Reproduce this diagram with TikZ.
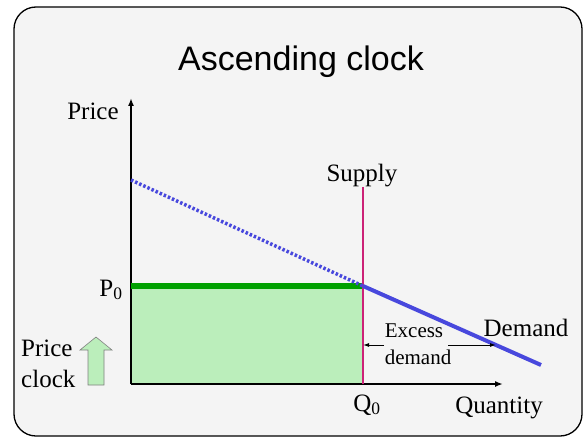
\documentclass[tikz,border=0pt]{standalone}
\usepackage{fontspec}
\setmainfont{Liberation Serif}
\newfontfamily\titlefont{Liberation Sans}
\usetikzlibrary{arrows.meta}
\definecolor{bgc}{HTML}{F4F4F4}
\definecolor{dblue}{HTML}{4848DD}
\definecolor{supc}{HTML}{CC2277}
\definecolor{pgreen}{HTML}{00A000}
\definecolor{lgreen}{HTML}{BBEEBB}
\tikzset{
  lbl/.style={font=\fontsize{25}{27}\selectfont, inner sep=0pt},
  slbl/.style={font=\fontsize{21}{23}\selectfont, inner sep=0pt},
  axis/.style={line width=1.6pt, -{Latex[length=8pt,width=6pt]}},
  smallarr/.style={line width=1pt, -{Latex[length=6pt,width=4pt]}}
}
\begin{document}
\begin{tikzpicture}[x=1pt,y=-1pt]
\useasboundingbox (0,0) rectangle (585,438);
\draw[line width=1.3pt, fill=bgc, rounded corners=22pt] (14,7) rectangle (582,436);
% green area
\fill[lgreen] (131,286) rectangle (363,384);
% axes
\coordinate (O) at (131,384);
\coordinate (Ytop) at (131,98);
\coordinate (Xend) at (503,384);
\draw[axis] (O) -- (Ytop);
\draw[axis] (O) -- (Xend);
% P0 line
\coordinate (P0l) at (131,286);
\coordinate (E) at (363,286);
\draw[pgreen, line width=6pt] (P0l) -- (E);
% supply
\coordinate (Stop) at (363,187);
\coordinate (Sbot) at (363,384);
\draw[supc, line width=1.5pt] (Stop) -- (Sbot);
% demand
\coordinate (Dtop) at (131,180);
\coordinate (Dend) at (541,365);
\draw[dblue, line width=3.5pt, dash pattern=on 2.5pt off 2pt] (Dtop) -- (E);
\draw[dblue, line width=4pt] (E) -- (Dend);
% labels
\node[font=\titlefont\fontsize{34}{36}\selectfont, inner sep=0pt] (title) at (301,62) {Ascending clock};
\node[lbl] (price) at (93,111) {Price};
\node[lbl] (supply) at (362,176) {Supply};
\node[lbl] (p0) at (111,290) {P\textsubscript{0}};
\node[lbl] (q0) at (367,405) {Q\textsubscript{0}};
\node[lbl] (qty) at (499,408) {Quantity};
\node[lbl] (dem) at (526,328) {Demand};
\node[slbl] (exc) at (414,331) {Excess};
\node[slbl] (excd) at (418,357) {demand};
\node[lbl, anchor=west] (pc1) at (21,348) {Price};
\node[lbl, anchor=west] (pc2) at (21,379) {clock};
% excess demand arrows
\coordinate (Aleft) at (363,345);
\coordinate (Al0) at (384,345);
\coordinate (Ar0) at (448,345);
\coordinate (Aright) at (496,345);
\draw[smallarr] (Al0) -- (Aleft);
\draw[smallarr] (Ar0) -- (Aright);
% price clock arrow
\draw[gray, line width=0.6pt, fill=lgreen] (88,385) -- (88,350) -- (80,350) -- (96,337) -- (112,350) -- (104,350) -- (104,385) -- cycle;
\end{tikzpicture}
\end{document}
